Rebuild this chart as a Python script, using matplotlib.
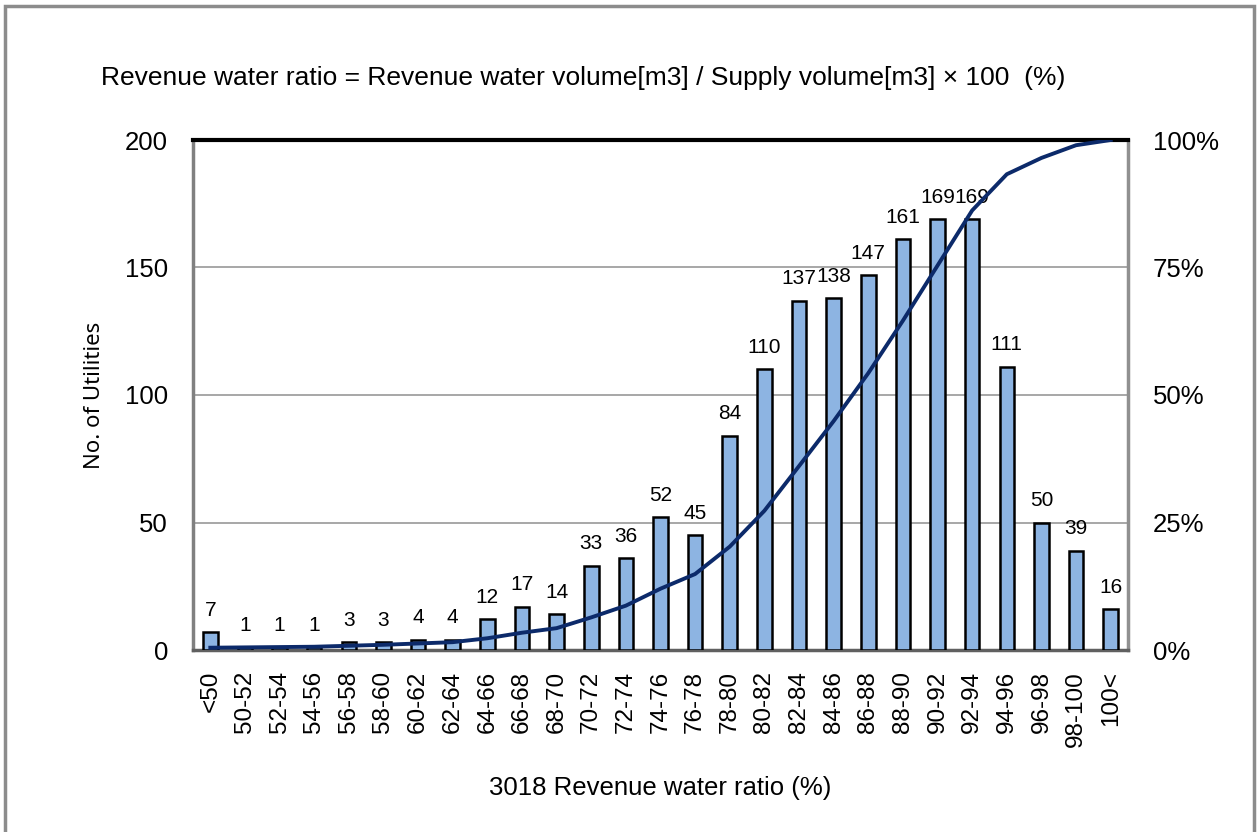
import numpy as np
import matplotlib.pyplot as plt
from matplotlib.patches import Rectangle

plt.rcParams['font.family'] = ['Liberation Sans', 'DejaVu Sans']

categories = ['<50', '50-52', '52-54', '54-56', '56-58', '58-60', '60-62', '62-64',
              '64-66', '66-68', '68-70', '70-72', '72-74', '74-76', '76-78', '78-80',
              '80-82', '82-84', '84-86', '86-88', '88-90', '90-92', '92-94', '94-96',
              '96-98', '98-100', '100<']
counts = [7, 1, 1, 1, 3, 3, 4, 4, 12, 17, 14, 33, 36, 52, 45, 84,
          110, 137, 138, 147, 161, 169, 169, 111, 50, 39, 16]

cum_pct = np.cumsum(counts) / np.sum(counts) * 100

fig = plt.figure(figsize=(12.59, 8.32), dpi=100)
fig.patches.append(Rectangle((5 / 1259, -0.01), 1249 / 1259, 1 - 6 / 832 + 0.01,
                             transform=fig.transFigure, fill=False,
                             edgecolor='#8c8c8c', linewidth=2.5))

ax = fig.add_axes([193 / 1259, 182 / 832, 935 / 1259, 510 / 832])
x = np.arange(len(categories))

ax.bar(x, counts, width=0.42, color='#8db4e2', edgecolor='black', linewidth=1.8, zorder=3)
for xi, c in zip(x, counts):
    ax.annotate(str(c), (xi, c), xytext=(0, 9), textcoords='offset points',
                ha='center', va='bottom', fontsize=15, zorder=4)

ax.set_xlim(-0.5, len(categories) - 0.5)
ax.set_ylim(0, 200)
ax.set_yticks([0, 50, 100, 150, 200])
ax.yaxis.grid(True, color='#a0a0a0', linewidth=1.3, zorder=0)
ax.set_xticks(x)
ax.set_xticklabels(categories, rotation=90, fontsize=17.5)
ax.tick_params(axis='y', labelsize=18.5, length=0, pad=18)
ax.tick_params(axis='x', length=0, pad=15)

ax.spines['left'].set_color('#808080')
ax.spines['left'].set_linewidth(2.5)
ax.spines['bottom'].set_color('#606060')
ax.spines['bottom'].set_linewidth(2.5)
ax.spines['right'].set_color('#909090')
ax.spines['right'].set_linewidth(2.5)
ax.spines['top'].set_color('black')
ax.spines['top'].set_linewidth(3)

ax.set_ylabel('No. of Utilities', fontsize=16, family=['Noto Sans', 'DejaVu Sans'], labelpad=14)
ax.set_xlabel('3018 Revenue water ratio (%)', fontsize=18.5, labelpad=21)

ax2 = ax.twinx()
ax2.plot(x, cum_pct, color='#0c2a6a', linewidth=2.8, zorder=5)
ax2.set_ylim(0, 100)
ax2.set_yticks([0, 25, 50, 75, 100])
ax2.set_yticklabels(['0%', '25%', '50%', '75%', '100%'])
ax2.tick_params(axis='y', labelsize=18.5, length=0, pad=18)
for s in ax2.spines.values():
    s.set_visible(False)

fig.text(583 / 1259, 1 - 78 / 832,
         'Revenue water ratio = Revenue water volume[m3] / Supply volume[m3] \u00d7 100  (%)',
         ha='center', va='center', fontsize=19)

fig.savefig('out.png', dpi=100)
